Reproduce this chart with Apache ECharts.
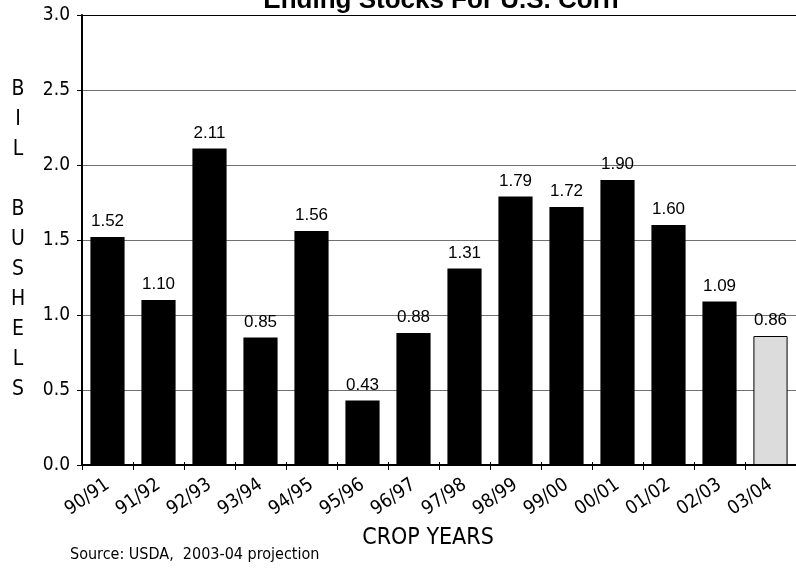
<!DOCTYPE html>
<html>
<head>
<meta charset="utf-8">
<script src="https://cdn.jsdelivr.net/npm/echarts@6/dist/echarts.min.js"></script>
<style>html,body{margin:0;padding:0;background:#fff}#c{width:796px;height:571px}</style>
</head>
<body>
<div id="c"></div>
<script>
var categories = ['90/91','91/92','92/93','93/94','94/95','95/96','96/97','97/98','98/99','99/00','00/01','01/02','02/03','03/04'];
var stocks = [1.52,1.10,2.11,0.85,1.56,0.43,0.88,1.31,1.79,1.72,1.90,1.60,1.09,0.86];
var projectedIndex = 13;
var titleText = 'Ending Stocks For U.S. Corn';
var yAxisName = 'B\nI\nL\n\nB\nU\nS\nH\nE\nL\nS';
var xAxisName = 'CROP YEARS';
var sourceText = 'Source: USDA,  2003-04 projection';

var narrow = "'Liberation Sans Narrow','DejaVu Sans Condensed','Liberation Sans',sans-serif";
var sans = "'Liberation Sans',Arial,sans-serif";

var chart = echarts.init(document.getElementById('c'), null, {renderer:'canvas'});
chart.setOption({
  animation:false,
  backgroundColor:'#fff',
  grid:{left:82,right:0,top:15,bottom:106,containLabel:false},
  xAxis:[{
    type:'category',
    data:categories,
    axisLine:{lineStyle:{color:'#000',width:2}},
    axisTick:{show:true,alignWithLabel:false,length:5,lineStyle:{color:'#000'}},
    axisLabel:{rotate:35,fontFamily:narrow,fontSize:19,color:'#000',margin:18,interval:0},
    splitLine:{show:false}
  },{
    type:'category',
    data:categories,
    position:'bottom',
    axisLine:{show:false},
    axisTick:{show:true,inside:true,length:3,lineStyle:{color:'#000'}},
    axisLabel:{show:false},
    splitLine:{show:false}
  }],
  yAxis:{
    type:'value',
    min:0,max:3,interval:0.5,
    axisLine:{show:true,lineStyle:{color:'#000',width:2}},
    axisTick:{show:true,length:5,lineStyle:{color:'#000'}},
    axisLabel:{fontFamily:narrow,fontSize:19,color:'#000',margin:12,formatter:function(v){return v.toFixed(1);}},
    splitLine:{show:true,lineStyle:{color:['#000','#707070','#707070','#707070','#707070','#707070','#000'],width:1}}
  },
  series:[{
    type:'bar',
    xAxisIndex:0,
    barWidth:'67%',
    data:stocks.map(function(v,i){
      return i===projectedIndex ? {value:v,itemStyle:{color:'#dcdcdc',borderColor:'#000',borderWidth:1}} : {value:v,itemStyle:{color:'#000'}};
    }),
    label:{show:true,position:'top',distance:7,fontFamily:sans,fontSize:17,color:'#000',formatter:function(p){return p.value.toFixed(2);}}
  }],
  graphic:[
    {type:'text',x:441,y:1,style:{text:titleText,font:"bold 26px 'Liberation Sans',Arial,sans-serif",fill:'#000',textAlign:'center',textVerticalAlign:'middle'}},
    {type:'text',x:18,y:75,style:{text:yAxisName,font:"21px "+narrow,fill:'#000',textAlign:'center',textVerticalAlign:'top',lineHeight:30}},
    {type:'text',x:428,y:538,style:{text:xAxisName,font:"23px "+narrow,fill:'#000',textAlign:'center',textVerticalAlign:'middle'}},
    {type:'text',x:70,y:555,style:{text:sourceText,font:"16px "+narrow,fill:'#000',textAlign:'left',textVerticalAlign:'middle'}}
  ]
});
</script>
</body>
</html>
